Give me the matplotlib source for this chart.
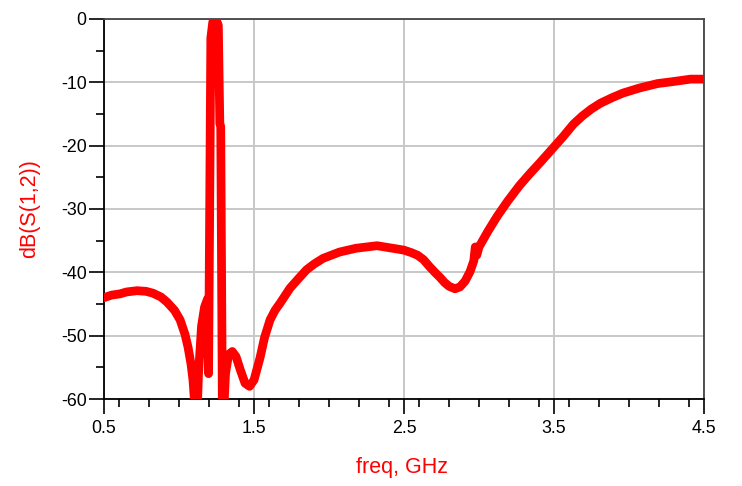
import matplotlib.pyplot as plt
from matplotlib.ticker import MultipleLocator

# values (freq in GHz, dB(S(1,2)))
freq = [0.5, 0.55, 0.607, 0.65, 0.72, 0.78, 0.827, 0.88, 0.92, 0.97,
        1.007, 1.04, 1.06, 1.08, 1.093, 1.105, 1.115, 1.13, 1.15, 1.17,
        1.19, 1.197, 1.212, 1.225, 1.245, 1.262, 1.272, 1.278, 1.29, 1.31,
        1.33, 1.355, 1.38, 1.41, 1.44, 1.47, 1.5, 1.54, 1.57, 1.607, 1.64, 1.673,
        1.74, 1.8, 1.85, 1.9, 1.96, 2.07, 2.18, 2.32, 2.45, 2.5, 2.55, 2.59, 2.63,
        2.67, 2.71, 2.74, 2.77, 2.8, 2.84, 2.873, 2.907, 2.94, 2.965, 2.975, 2.985,
        3.0, 3.06, 3.12, 3.19, 3.27, 3.34, 3.41, 3.5, 3.56, 3.63, 3.69, 3.75, 3.81,
        3.89, 3.96, 4.07, 4.19, 4.29, 4.41, 4.5]
s12_db = [-44.0, -43.6, -43.4, -43.1, -42.9, -43.0, -43.3, -43.9, -44.7, -46.0,
          -47.5, -49.8, -51.8, -54.5, -57.0, -61.0, -66.0, -56.0, -48.5, -45.5,
          -44.2, -56.0, -3.0, -0.5, 0.0, -1.0, -16.5, -17.0, -66.0, -56.0,
          -53.0, -52.5, -53.3, -55.5, -57.5, -58.0, -57.0, -53.5, -50.3, -47.5, -46.0, -44.9,
          -42.5, -40.9, -39.6, -38.7, -37.8, -36.8, -36.2, -35.8, -36.3, -36.5, -36.9, -37.3, -38.0,
          -39.1, -40.1, -40.8, -41.6, -42.2, -42.6, -42.3, -41.4, -39.9, -38.2, -36.0, -37.3,
          -36.0, -33.5, -31.2, -28.8, -26.3, -24.4, -22.6, -20.2, -18.6, -16.6, -15.3, -14.2, -13.3,
          -12.4, -11.7, -10.9, -10.2, -9.9, -9.5, -9.5]

fig = plt.figure(figsize=(7.42, 4.86), dpi=100)
ax = fig.add_axes([0.1402, 0.179, 0.8086, 0.782])
plt.rcParams['font.family'] = ['Liberation Sans', 'DejaVu Sans']

ax.plot(freq, s12_db, color='#ff0000', linewidth=6.3, solid_joinstyle='round',
        solid_capstyle='round', zorder=3)

ax.set_xlim(0.5, 4.5)
ax.set_ylim(-60, 0)
ax.xaxis.set_minor_locator(MultipleLocator(0.2))
ax.yaxis.set_minor_locator(MultipleLocator(5))
ax.set_xticks([0.5, 1.5, 2.5, 3.5, 4.5])
ax.set_xticklabels(['0.5', '1.5', '2.5', '3.5', '4.5'], family='Liberation Sans')
ax.set_yticks([0, -10, -20, -30, -40, -50, -60])
ax.set_yticklabels(['0', '-10', '-20', '-30', '-40', '-50', '-60'], family='Liberation Sans')

ax.grid(True, which='major', color='#c8c8c8', linewidth=1.4, zorder=0)
ax.tick_params(which='major', direction='out', length=11, width=1.2, labelsize=12.8,
               colors='black')
ax.tick_params(axis='x', which='major', pad=4)
ax.tick_params(axis='y', which='major', pad=1.5)
ax.tick_params(which='minor', direction='out', length=6, width=1.2)

for side in ['left', 'bottom']:
    ax.spines[side].set_color('black')
    ax.spines[side].set_linewidth(1.3)
for side in ['top', 'right']:
    ax.spines[side].set_color('#444444')
    ax.spines[side].set_linewidth(1.3)

ax.set_xlabel('freq, GHz', color='#ff0000', fontsize=15.5, family='Liberation Sans')
ax.set_ylabel('dB(S(1,2))', color='#ff0000', fontsize=15.5, family='Liberation Sans')
ax.xaxis.set_label_coords(0.497, -0.152)
ax.yaxis.set_label_coords(-0.107, 0.5)

fig.savefig('out.png', dpi=100)
